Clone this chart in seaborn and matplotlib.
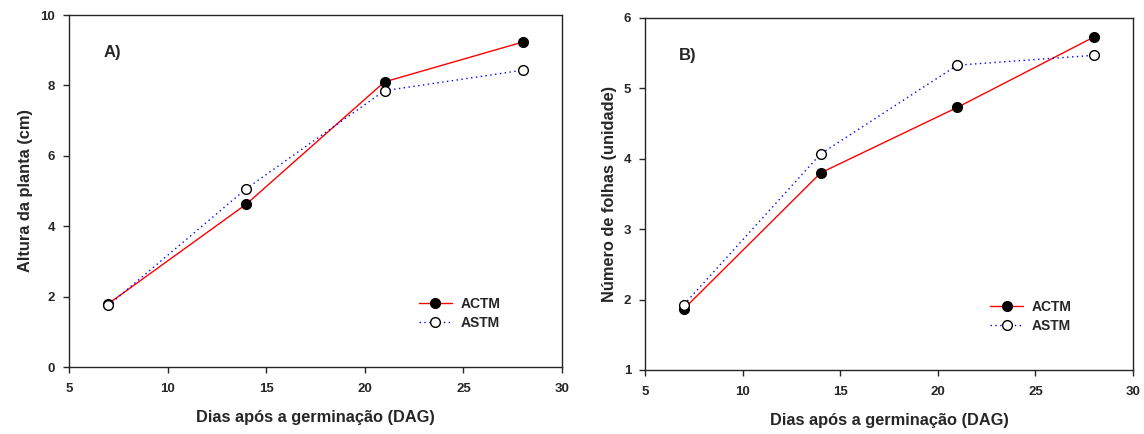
import pandas as pd
import seaborn as sns
import matplotlib.pyplot as plt

# --- dados ---
dias = [7, 14, 21, 28]

altura_actm = [1.80, 4.63, 8.10, 9.23]
altura_astm = [1.75, 5.07, 7.85, 8.43]

folhas_actm = [1.87, 3.80, 4.73, 5.73]
folhas_astm = [1.93, 4.07, 5.33, 5.47]

tratamentos = ["ACTM", "ASTM"]


def monta_df(actm, astm):
    df = pd.DataFrame({"dias": dias * 2,
                       "valor": actm + astm,
                       "trat": [tratamentos[0]] * len(dias) + [tratamentos[1]] * len(dias)})
    return df


sns.set_style("ticks")
plt.rcParams['font.family'] = ['Liberation Sans', 'DejaVu Sans']
plt.rcParams['font.weight'] = 'bold'

estilos = {
    "ACTM": dict(color="red", linestyle="-", marker="o", markerfacecolor="black",
                 markeredgecolor="black"),
    "ASTM": dict(color="blue", linestyle=(0, (1, 2.5)), marker="o", markerfacecolor="white",
                 markeredgecolor="black"),
}

fig = plt.figure(figsize=(11.44, 4.34), dpi=100)
ax1 = fig.add_axes([69 / 1144, 1 - 367 / 434, 493 / 1144, 352 / 434])
ax2 = fig.add_axes([645 / 1144, 1 - 370 / 434, 488 / 1144, 352 / 434])

paineis = [
    (ax1, monta_df(altura_actm, altura_astm), "Altura da planta (cm)", (0, 10), [0, 2, 4, 6, 8, 10], "A)"),
    (ax2, monta_df(folhas_actm, folhas_astm), "Número de folhas (unidade)", (1, 6), [1, 2, 3, 4, 5, 6], "B)"),
]

for ax, df, ylab, ylim, yticks, letra in paineis:
    for t in tratamentos:
        sub = df[df["trat"] == t]
        sns.lineplot(data=sub, x="dias", y="valor", ax=ax, label=t, linewidth=1,
                     markersize=7, markeredgewidth=1, **estilos[t])
    ax.set_xlim(5, 30)
    ax.set_ylim(*ylim)
    ax.set_xticks([5, 10, 15, 20, 25, 30])
    ax.set_yticks(yticks)
    ax.tick_params(labelsize=9.5, width=1, length=4.5, direction="out")
    ax.tick_params(axis="x", pad=7)
    ax.tick_params(axis="y", pad=5.5)
    for lab in ax.get_xticklabels() + ax.get_yticklabels():
        lab.set_fontweight("bold")
    for s in ax.spines.values():
        s.set_linewidth(1)
        s.set_visible(True)
    ax.set_xlabel("Dias após a germinação (DAG)", fontsize=11.8, fontweight="bold", labelpad=10.5)
    ax.set_ylabel(ylab, fontsize=11.8, fontweight="bold", labelpad=5)
    ax.text(0.07, 0.88, letra, transform=ax.transAxes, fontsize=12, fontweight="bold")
    ax.legend(loc="lower right", bbox_to_anchor=(0.9, 0.07), frameon=False,
              handlelength=2.4, handletextpad=0.6, labelspacing=0.35,
              prop={"weight": "bold", "size": 10})

fig.savefig("out.png", dpi=100)
